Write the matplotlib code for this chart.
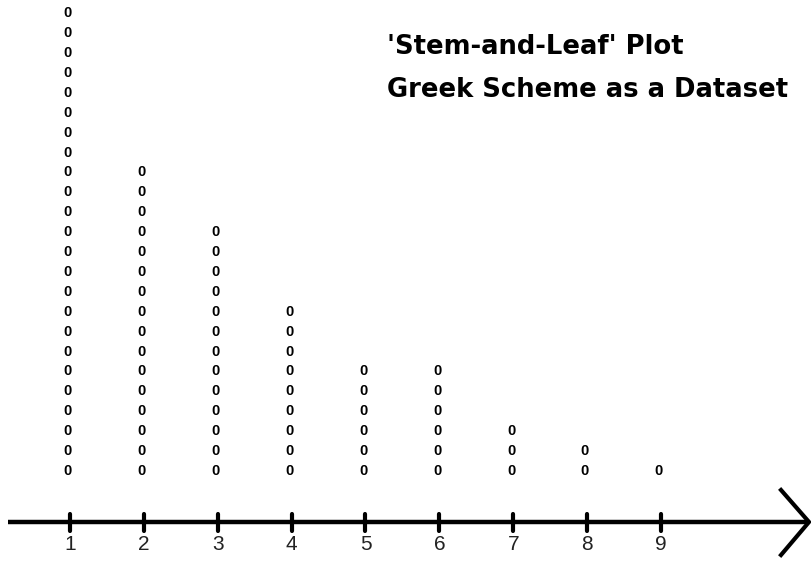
import matplotlib
matplotlib.use("Agg")
import matplotlib.pyplot as plt

# Data: stems and number of leaves per stem
stems = [1, 2, 3, 4, 5, 6, 7, 8, 9]
leaf_counts = [24, 16, 13, 9, 6, 6, 3, 2, 1]
tick_labels = ["1", "2", "3", "4", "5", "6", "7", "8", "9"]
title_lines = ["'Stem-and-Leaf' Plot", "Greek Scheme as a Dataset"]
leaf_symbol = "0"

W, H = 811, 580
fig = plt.figure(figsize=(W / 100, H / 100), dpi=100)
ax = fig.add_axes([0, 0, 1, 1])
ax.set_axis_off()

# scale: stem 1 -> px 70, stem 9 -> px 661; leaf 1 -> py 470 (from top), step 19.9 px
xstep = (661 - 70) / 8.0
ystep = 19.9
x0 = 1 - 70 / xstep
x1 = 1 + (W - 70) / xstep
y_bottom = 1 - (H - 470) / ystep
y_top = 1 + 470 / ystep
ax.set_xlim(x0, x1)
ax.set_ylim(y_bottom, y_top)

def py(pix_from_top):
    return 1 + (470 - pix_from_top) / ystep

def px(pix):
    return 1 + (pix - 70) / xstep

# leaves
for s, n in zip(stems, leaf_counts):
    for i in range(1, n + 1):
        ax.text(s - 0.03, i - 0.05, leaf_symbol, ha="center", va="center",
                fontsize=10.5, fontweight="bold", family="Liberation Sans",
                color="black")

# axis line with arrow
axis_y = py(522)
ax.plot([px(8), px(807)], [axis_y, axis_y], color="black", lw=3.2,
        solid_capstyle="butt")
ax.plot([px(781), px(809), px(781)], [py(490), py(522), py(555)],
        color="black", lw=3.0, solid_joinstyle="miter")

# ticks
for s in stems:
    ax.plot([s, s], [py(514), py(531)], color="black", lw=3.0,
            solid_capstyle="round")

# tick labels
for s, lab in zip(stems, tick_labels):
    ax.text(s, py(545), lab, ha="center", va="center", fontsize=15,
            family="Liberation Sans", color="#222222")

# title
ax.text(px(387), py(47), title_lines[0], ha="left", va="center",
        fontsize=18.6, fontweight="bold", family="DejaVu Sans")
ax.text(px(387), py(90), title_lines[1], ha="left", va="center",
        fontsize=18.6, fontweight="bold", family="DejaVu Sans")

fig.savefig("out.png", dpi=100, facecolor="white")
